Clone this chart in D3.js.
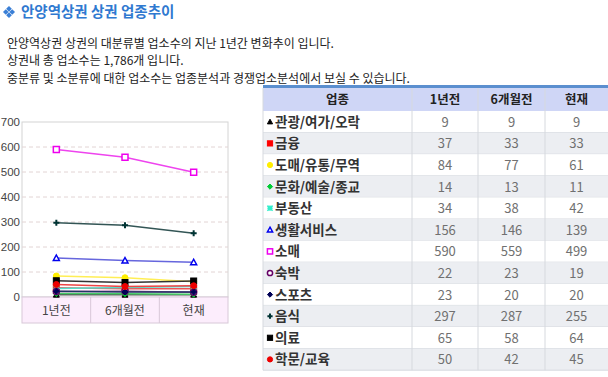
<!DOCTYPE html>
<html>
<head>
<meta charset="utf-8">
<script src="https://cdn.jsdelivr.net/npm/d3@7"></script>
<style>
  html, body { margin: 0; padding: 0; background: #fff; }
  svg text { font-family: "Noto Sans CJK KR", "DejaVu Sans", sans-serif; }
</style>
</head>
<body>
<div id="chart"></div>
<script>
// data
const periods = ["1년전", "6개월전", "현재"];
const tableHeader = ["업종", "1년전", "6개월전", "현재"];
const sectors = ["관광/여가/오락", "금융", "도매/유통/무역", "문화/예술/종교", "부동산", "생활서비스",
  "소매", "숙박", "스포츠", "음식", "의료", "학문/교육"];
const counts = [
  [9, 9, 9],
  [37, 33, 33],
  [84, 77, 61],
  [14, 13, 11],
  [34, 38, 42],
  [156, 146, 139],
  [590, 559, 499],
  [22, 23, 19],
  [23, 20, 20],
  [297, 287, 255],
  [65, 58, 64],
  [50, 42, 45]
];
const yTicks = [0, 100, 200, 300, 400, 500, 600, 700];
const title = "안양역상권 상권 업종추이";
const intro = [
  "안양역상권 상권의 대분류별 업소수의 지난 1년간 변화추이 입니다.",
  "상권내 총 업소수는 1,786개 입니다.",
  "중분류 및 소분류에 대한 업소수는 업종분석과 경쟁업소분석에서 보실 수 있습니다."
];

// marker style per sector
const markers = [
  {shape: "triangle", color: "#000000", fill: true},
  {shape: "square", color: "#ff0000", fill: true},
  {shape: "circle", color: "#ffee00", fill: true},
  {shape: "diamond", color: "#00cc33", fill: true},
  {shape: "star", color: "#33eecc", fill: true},
  {shape: "triangle", color: "#0000ee", fill: false},
  {shape: "square", color: "#ee00ee", fill: false},
  {shape: "circle", color: "#660066", fill: false},
  {shape: "diamond", color: "#000055", fill: true},
  {shape: "cross", color: "#003333", fill: true},
  {shape: "square", color: "#000000", fill: true},
  {shape: "circle", color: "#ee0000", fill: true}
];
const lineColors = ["#555555", "#ee5555", "#ffee55", "#44cc66", "#55ddcc", "#6666dd",
  "#ee44ee", "#884488", "#223366", "#335555", "#333333", "#ee4444"];

const W = 608, H = 377;
const svg = d3.select("#chart").append("svg")
  .attr("width", W).attr("height", H);

// heading
const icon = svg.append("g").attr("transform", "translate(9,12)");
[[0, -3.2], [3.2, 0], [0, 3.2], [-3.2, 0]].forEach(p => {
  icon.append("rect").attr("x", p[0] - 2).attr("y", p[1] - 2).attr("width", 4).attr("height", 4)
    .attr("fill", "#3a7fd6").attr("transform", `rotate(45,${p[0]},${p[1]})`);
});
svg.append("text").attr("x", 21).attr("y", 17)
  .attr("font-size", 14.5).attr("font-weight", "bold").attr("fill", "#2f79d0")
  .text(title);

svg.selectAll(".intro").data(intro).enter().append("text")
  .attr("class", "intro")
  .attr("x", 7).attr("y", (d, i) => 47.5 + i * 17.5)
  .attr("font-size", 12).attr("fill", "#222")
  .text(d => d);

// line chart
const plot = {left: 22, right: 228, top: 122, bottom: 297, band: 26};
const x = d3.scaleBand().domain(periods).range([plot.left, plot.right]);
const y = d3.scaleLinear().domain([0, 700]).range([plot.bottom, plot.top]);

const chart = svg.append("g");

chart.append("rect")
  .attr("x", plot.left).attr("y", plot.top)
  .attr("width", plot.right - plot.left).attr("height", plot.bottom - plot.top)
  .attr("fill", "#fff").attr("stroke", "#d4d4d4");

chart.selectAll(".grid").data(yTicks.filter(d => d > 0 && d < 700)).enter().append("line")
  .attr("x1", plot.left).attr("x2", plot.right)
  .attr("y1", d => y(d)).attr("y2", d => y(d))
  .attr("stroke", "#e2d4d4").attr("stroke-dasharray", "4,3");

const yAxis = chart.append("g")
  .attr("transform", `translate(${plot.left},0)`)
  .call(d3.axisLeft(y).tickValues(yTicks).tickSize(0).tickPadding(2));
yAxis.select(".domain").remove();
yAxis.selectAll("text").attr("font-size", 11.5).attr("fill", "#444")
  .style("font-family", "'Liberation Sans', sans-serif");

// category band under the plot
chart.append("rect")
  .attr("x", plot.left).attr("y", plot.bottom)
  .attr("width", plot.right - plot.left).attr("height", plot.band)
  .attr("fill", "#fcedfc").attr("stroke", "#d8c8d8");
chart.selectAll(".sep").data(periods.slice(1)).enter().append("line")
  .attr("x1", d => x(d)).attr("x2", d => x(d))
  .attr("y1", plot.bottom).attr("y2", plot.bottom + plot.band)
  .attr("stroke", "#d8c8d8");
chart.selectAll(".xlab").data(periods).enter().append("text")
  .attr("x", d => x(d) + x.bandwidth() / 2).attr("y", plot.bottom + 18)
  .attr("text-anchor", "middle").attr("font-size", 12).attr("fill", "#444")
  .text(d => d);

function drawMarker(g, m, size) {
  const s = size;
  let el;
  if (m.shape === "triangle") {
    el = g.append("path").attr("d", `M0,${-s}L${s},${s * 0.8}L${-s},${s * 0.8}Z`);
  } else if (m.shape === "square") {
    el = g.append("rect").attr("x", -s).attr("y", -s).attr("width", 2 * s).attr("height", 2 * s);
  } else if (m.shape === "circle") {
    el = g.append("circle").attr("r", s);
  } else if (m.shape === "diamond") {
    el = g.append("path").attr("d", `M0,${-s}L${s},0L0,${s}L${-s},0Z`);
  } else if (m.shape === "star") {
    el = g.append("path").attr("d", `M${-s},${-s}L${s},${s}M${s},${-s}L${-s},${s}M0,${-s}L0,${s}M${-s},0L${s},0`)
      .attr("stroke-width", 1.6);
    el.attr("stroke", m.color).attr("fill", "none");
    return;
  } else {
    el = g.append("path").attr("d", `M0,${-s}L0,${s}M${-s},0L${s},0`).attr("stroke-width", 2);
    el.attr("stroke", m.color).attr("fill", "none");
    return;
  }
  el.attr("fill", m.fill ? m.color : "#fff")
    .attr("stroke", m.color).attr("stroke-width", m.fill ? 1 : 1.5);
}

const line = d3.line()
  .x((d, i) => x(periods[i]) + x.bandwidth() / 2)
  .y(d => y(d));

const series = chart.selectAll(".series").data(counts).enter().append("g");
series.append("path")
  .attr("d", d => line(d))
  .attr("fill", "none")
  .attr("stroke", (d, i) => lineColors[i])
  .attr("stroke-width", 1.5);
series.each(function(d, i) {
  const g = d3.select(this);
  d.forEach((v, j) => {
    const mg = g.append("g")
      .attr("transform", `translate(${x(periods[j]) + x.bandwidth() / 2},${y(v)})`);
    drawMarker(mg, markers[i], 3);
  });
});

// data table
const tbl = {left: 263, top: 85, headH: 26, rowH: 21.6};
const cols = [263, 412, 478, 545, 612];

const table = svg.append("g");
table.append("rect").attr("x", tbl.left).attr("y", tbl.top)
  .attr("width", W - tbl.left).attr("height", 3).attr("fill", "#5b8fcf");
table.append("rect").attr("x", tbl.left).attr("y", tbl.top + 3)
  .attr("width", W - tbl.left).attr("height", tbl.headH - 3).attr("fill", "#cfd6f6");
table.selectAll(".head").data(tableHeader).enter().append("text")
  .attr("x", (d, i) => (cols[i] + cols[i + 1]) / 2 - (i === 3 ? 2 : 0))
  .attr("y", tbl.top + 19)
  .attr("text-anchor", "middle").attr("font-size", 12.5).attr("font-weight", "bold").attr("fill", "#222")
  .text(d => d);

const rows = table.selectAll(".row").data(sectors).enter().append("g")
  .attr("transform", (d, i) => `translate(0,${tbl.top + tbl.headH + i * tbl.rowH})`);
rows.append("rect")
  .attr("x", tbl.left).attr("width", W - tbl.left).attr("height", tbl.rowH)
  .attr("fill", (d, i) => i % 2 ? "#eceef2" : "#fff");
rows.append("line")
  .attr("x1", tbl.left).attr("x2", W)
  .attr("y1", tbl.rowH).attr("y2", tbl.rowH)
  .attr("stroke", "#d6d9de");
rows.each(function(d, i) {
  const g = d3.select(this);
  const mg = g.append("g").attr("transform", `translate(270,${tbl.rowH / 2})`);
  drawMarker(mg, markers[i], 2.6);
  g.append("text").attr("x", 275).attr("y", tbl.rowH / 2 + 5)
    .attr("font-size", 13.5).attr("font-weight", "bold").attr("fill", "#333")
    .text(d);
  counts[i].forEach((v, j) => {
    g.append("text")
      .attr("x", (cols[j + 1] + cols[j + 2]) / 2 - (j === 2 ? 2 : 0))
      .attr("y", tbl.rowH / 2 + 5)
      .attr("text-anchor", "middle").attr("font-size", 13).attr("fill", "#707070")
      .text(v);
  });
});

// column separators
table.selectAll(".vsep").data(cols.slice(0, 4)).enter().append("line")
  .attr("x1", d => d).attr("x2", d => d)
  .attr("y1", tbl.top + 3).attr("y2", tbl.top + tbl.headH + sectors.length * tbl.rowH)
  .attr("stroke", "#d6d9de");
</script>
</body>
</html>
